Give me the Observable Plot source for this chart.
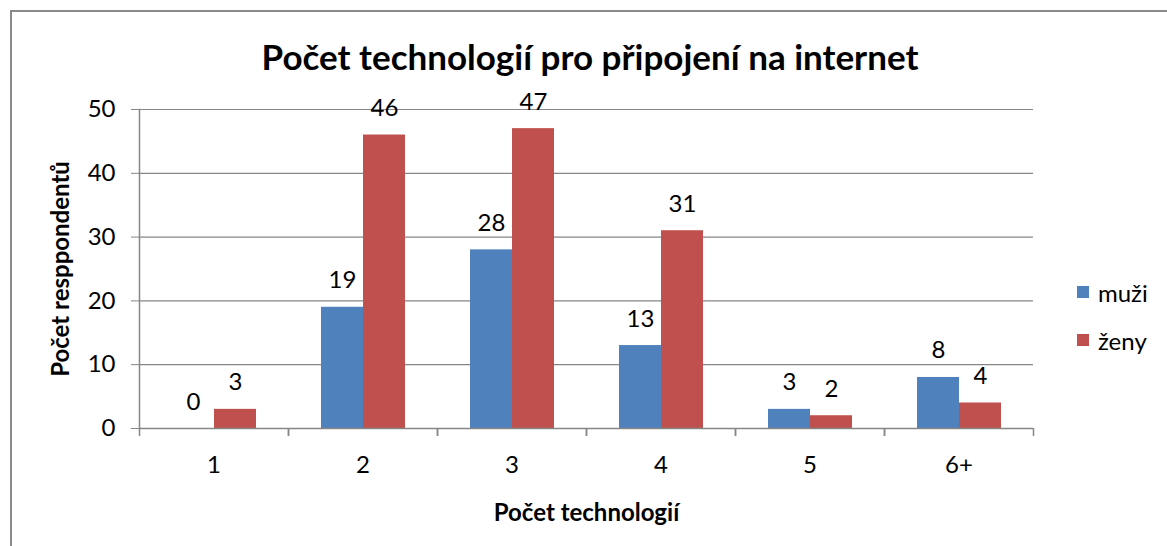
<!DOCTYPE html>
<html>
<head>
<meta charset="utf-8">
<script src="https://cdn.jsdelivr.net/npm/d3@7"></script>
<script src="https://cdn.jsdelivr.net/npm/@observablehq/plot@0.6"></script>
<style>
  html, body { margin: 0; padding: 0; background: #fff; overflow: hidden; }
  #wrap { position: relative; width: 1167px; height: 546px; overflow: hidden; font-family: Lato, sans-serif; }
  #border { position: absolute; left: 10px; top: 10px; width: 1300px; height: 700px; border: 2px solid #8a8a8a; box-sizing: border-box; pointer-events: none; }
  #title { position: absolute; left: 0; top: 36px; width: 1180px; text-align: center; font-weight: bold; font-size: 35px; line-height: 40px; color: #000; }
  #chart { position: absolute; left: 0; top: 80px; }
  #legend { position: absolute; left: 1077px; top: 268px; font-size: 24px; color: #000; }
  #legend .item { display: flex; align-items: center; height: 48px; }
  #legend .sw { width: 12px; height: 12px; margin-right: 9px; }
  g[aria-label="y-axis label"], g[aria-label="fx-axis label"] { font-weight: bold; }
</style>
</head>
<body>
<div id="wrap">
  <div id="title"></div>
  <div id="chart"></div>
  <div id="legend"></div>
  <div id="border"></div>
</div>
<script>
const title = "Počet technologií pro připojení na internet";
const yLabel = "Počet resppondentů";
const xLabel = "Počet technologií";
const categories = ["1", "2", "3", "4", "5", "6+"];
const seriesNames = ["muži", "ženy"];
const muzi = [0, 19, 28, 13, 3, 8];
const zeny = [3, 46, 47, 31, 2, 4];
const colors = ["#4F81BD", "#C0504D"];
const yTicks = [0, 10, 20, 30, 40, 50];

const data = [];
categories.forEach((c, i) => {
  data.push({cat: c, series: seriesNames[0], value: muzi[i]});
  data.push({cat: c, series: seriesNames[1], value: zeny[i]});
});

document.getElementById("title").textContent = title;

const gray = "#868686";

// boundary tick marks below the category axis, at the edges of each facet
function boundaryTicks(index, scales, values, dims) {
  const g = document.createElementNS("http://www.w3.org/2000/svg", "g");
  const y0 = scales.y(0);
  const xs = [dims.marginLeft, dims.width - dims.marginRight];
  for (const x of xs) {
    const l = document.createElementNS("http://www.w3.org/2000/svg", "line");
    l.setAttribute("x1", x + 0.5); l.setAttribute("x2", x + 0.5);
    l.setAttribute("y1", y0); l.setAttribute("y2", y0 + 8);
    l.setAttribute("stroke", gray); l.setAttribute("stroke-width", 1.5);
    g.appendChild(l);
  }
  return g;
}

const chart = Plot.plot({
  width: 1167,
  height: 466,
  marginLeft: 136,
  marginRight: 132,
  marginTop: 29,
  marginBottom: 118,
  style: {fontFamily: "Lato, sans-serif", fontSize: "24px", color: "#000", background: "transparent", overflow: "visible"},
  fx: {domain: categories, padding: 0},
  x: {domain: seriesNames, axis: null, paddingInner: 0, paddingOuter: 0.76},
  y: {domain: [0, 50], labelArrow: "none"},
  color: {domain: seriesNames, range: colors},
  marks: [
    Plot.gridY(yTicks.filter(d => d > 0), {stroke: gray, strokeOpacity: 1, strokeWidth: 1.2}),
    Plot.barY(data, {fx: "cat", x: "series", y: "value", fill: "series"}),
    Plot.text(data, {fx: "cat", x: "series", y: "value", text: d => String(d.value), lineAnchor: "bottom", dy: -19, fontSize: 24, fill: "#000"}),
    Plot.ruleY([0], {stroke: gray, strokeWidth: 1.5}),
    boundaryTicks,
    Plot.frame({anchor: "left", facetAnchor: "left", stroke: gray, strokeWidth: 1.5}),
    Plot.axisY({anchor: "left", ticks: yTicks, tickSize: 8, tickPadding: 16, stroke: gray, fill: "#000", label: yLabel, labelArrow: "none", labelAnchor: "center", labelOffset: 88, fontSize: 24}),
    Plot.axisFx({anchor: "bottom", tickSize: 0, tickPadding: 27, fill: "#000", label: xLabel, labelArrow: "none", labelAnchor: "center", labelOffset: 92, fontSize: 24})
  ]
});
document.getElementById("chart").appendChild(chart);

const legend = document.getElementById("legend");
seriesNames.forEach((s, i) => {
  const item = document.createElement("div");
  item.className = "item";
  const sw = document.createElement("div");
  sw.className = "sw";
  sw.style.background = colors[i];
  const t = document.createElement("span");
  t.textContent = s;
  item.appendChild(sw);
  item.appendChild(t);
  legend.appendChild(item);
});
</script>
</body>
</html>
